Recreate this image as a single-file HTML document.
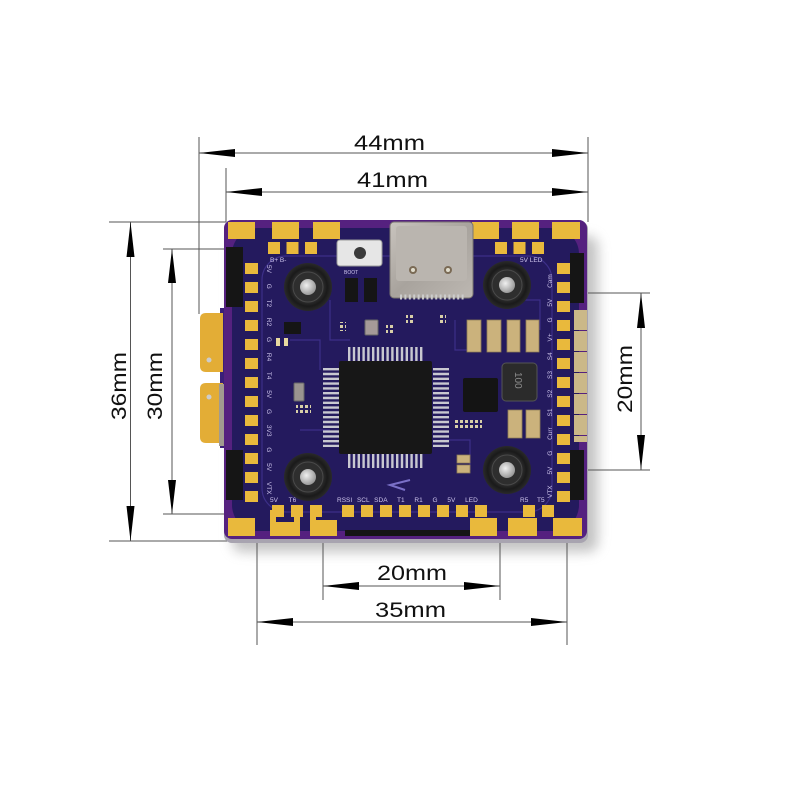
<!DOCTYPE html>
<html><head><meta charset="utf-8"><style>
html,body{margin:0;padding:0;background:#fff;}
svg{display:block;}
</style></head><body>
<svg width="800" height="800" viewBox="0 0 800 800" xmlns="http://www.w3.org/2000/svg" font-family="Liberation Sans, Arial, sans-serif">
<defs>
<filter id="blur" x="-20%" y="-20%" width="140%" height="140%"><feGaussianBlur stdDeviation="6"/></filter>
<radialGradient id="silver" cx="40%" cy="40%" r="60%"><stop offset="0" stop-color="#f0f0f0"/><stop offset="1" stop-color="#9a9a9a"/></radialGradient>
<radialGradient id="ring" cx="50%" cy="50%" r="50%"><stop offset="0.5" stop-color="#3a3a3a"/><stop offset="0.8" stop-color="#1a1a1a"/><stop offset="1" stop-color="#2a2a2a"/></radialGradient>
<linearGradient id="usb" x1="0" y1="0" x2="1" y2="1"><stop offset="0" stop-color="#c9c4be"/><stop offset="0.5" stop-color="#a8a39d"/><stop offset="1" stop-color="#bdb8b2"/></linearGradient>
<pattern id="dots" width="5" height="5" patternUnits="userSpaceOnUse"><rect width="3" height="3" fill="#d8cfa8"/></pattern>
</defs>

<rect x="232" y="236" width="366" height="316" rx="10" fill="#8a8a8a" opacity="0.5" filter="url(#blur)"/>

<g stroke="#555" stroke-width="1" fill="none">
  <path d="M199,137V314 M588,137V222 M226,168V222 M199,153H588 M226,192H588"/>
  <path d="M109,222H226 M109,541H230 M130.5,222V541 M163,249H226 M163,514H226 M172,249V514"/>
  <path d="M588,293H650 M588,470H650 M641,293V470"/>
  <path d="M257,540V645 M567,540V645 M323,536V600 M500,536V600 M323,586H500 M257,622H567"/>
</g>
<g fill="#000">
  <path d="M199,153 L235,149 L235,157Z M588,153 L552,149 L552,157Z"/>
  <path d="M226,192 L262,188 L262,196Z M588,192 L552,188 L552,196Z"/>
  <path d="M130.5,222 L126.5,257 L134.5,257Z M130.5,541 L126.5,506 L134.5,506Z"/>
  <path d="M172,249 L168,283 L176,283Z M172,514 L168,480 L176,480Z"/>
  <path d="M641,293 L637,328 L645,328Z M641,470 L637,435 L645,435Z"/>
  <path d="M323,586 L359,582 L359,590Z M500,586 L464,582 L464,590Z"/>
  <path d="M257,622 L293,618 L293,626Z M567,622 L531,618 L531,626Z"/>
</g>
<g fill="#111" font-size="21">
  <text x="354" y="150" textLength="71" lengthAdjust="spacingAndGlyphs">44mm</text>
  <text x="357" y="187" textLength="71" lengthAdjust="spacingAndGlyphs">41mm</text>
  <text x="377" y="580" textLength="70" lengthAdjust="spacingAndGlyphs">20mm</text>
  <text x="375" y="617" textLength="71" lengthAdjust="spacingAndGlyphs">35mm</text>
  <text transform="translate(126,420) rotate(-90)" textLength="68" lengthAdjust="spacingAndGlyphs">36mm</text>
  <text transform="translate(162,420) rotate(-90)" textLength="68" lengthAdjust="spacingAndGlyphs">30mm</text>
  <text transform="translate(632,413) rotate(-90)" textLength="68" lengthAdjust="spacingAndGlyphs">20mm</text>
</g>

<!-- left tab -->
<rect x="220" y="308" width="26" height="140" fill="#3a1f78"/>
<path d="M223,313 H206 Q200,313 200,319 V366 Q200,372 206,372 H223Z M223,383 H206 Q200,383 200,389 V437 Q200,443 206,443 H223Z" fill="#e3ad36"/>
<circle cx="209" cy="360" r="2.5" fill="#ccc"/>
<circle cx="209" cy="397" r="2.5" fill="#ccc"/>
<rect x="219" y="384" width="27" height="62" fill="#a29b90"/>

<!-- board -->
<rect x="224" y="221" width="364" height="322" rx="8" fill="#a8a4b0"/>
<rect x="224" y="220" width="363" height="319" rx="8" fill="#55217f"/>
<rect x="232" y="228" width="347" height="303" rx="26" fill="#241a5e"/>
<g stroke="#3c2f88" stroke-width="1.2" fill="none">
  <rect x="262" y="256" width="290" height="256" rx="24"/>
  <path d="M330,300V340H350 M455,320V350H470 M290,340H320V370 M440,440H470V470 M300,430H330 M520,300H540V330"/>
</g>

<!-- connectors on edges -->
<g fill="#151515">
  <rect x="226" y="247" width="17" height="60"/>
  <rect x="226" y="450" width="17" height="50"/>
  <rect x="570" y="253" width="14" height="50"/>
  <rect x="570" y="450" width="14" height="50"/>
  <rect x="345" y="530" width="125" height="6"/>
</g>
<line x1="580.5" y1="310" x2="580.5" y2="442" stroke="#cbb888" stroke-width="13" stroke-dasharray="20 1"/>

<!-- gold pads -->
<g fill="#e9b93c">
  <path d="M228,222h27v17h-27z M272,222h27v17h-27z M313,222h27v17h-27z M472,222h27v17h-27z M512,222h27v17h-27z M552,222h28v17h-28z"/>
  <path d="M228,518h27v18h-27z M470,518h27v18h-27z M508,518h29v18h-29z M553,518h29v18h-29z"/>
  <path d="M270,510 H276 V522 H294 V510 H300 V536 H270Z M310,510 H316 V520 H337 V536 H310Z"/>
</g>
<g stroke="#e9b93c" fill="none">
  <line x1="268" y1="248" x2="318" y2="248" stroke-width="12" stroke-dasharray="12 6.5"/>
  <line x1="495" y1="248" x2="545" y2="248" stroke-width="12" stroke-dasharray="12 6.5"/>
  <line x1="251.5" y1="263" x2="251.5" y2="502" stroke-width="13" stroke-dasharray="11 8"/>
  <line x1="563.5" y1="263" x2="563.5" y2="502" stroke-width="13" stroke-dasharray="11 8"/>
  <line x1="272" y1="511" x2="322" y2="511" stroke-width="12" stroke-dasharray="12 7"/>
  <line x1="342" y1="511" x2="487" y2="511" stroke-width="12" stroke-dasharray="12 7"/>
  <line x1="523" y1="511" x2="554" y2="511" stroke-width="12" stroke-dasharray="12 7"/>
</g>

<!-- silkscreen labels -->
<g fill="#cfc6ee" font-size="6.5">
  <text x="270" y="262">B+ B-</text>
  <text x="520" y="262">5V LED</text>
  <text x="344" y="274" font-size="5">BOOT</text>
  <text x="270" y="502" word-spacing="9">5V T6</text>
  <text x="337" y="502" word-spacing="3">RSSI SCL SDA</text>
  <text x="397" y="502" word-spacing="8">T1 R1 G 5V LED</text>
  <text x="520" y="502" word-spacing="7">R5 T5</text>
  <text transform="translate(267,265) rotate(90)" word-spacing="9">5V G T2 R2 G R4 T4 5V G 3V3 G 5V VTX</text>
  <text transform="translate(552,498) rotate(-90)" word-spacing="9">VTX 5V G Curr S1 S2 S3 S4 V+ G 5V Cam</text>
</g>

<!-- USB-C -->
<rect x="390" y="222" width="83" height="76" rx="4" fill="url(#usb)" stroke="#7a7570"/>
<rect x="396" y="226" width="71" height="55" rx="3" fill="#bab5af"/>
<circle cx="413" cy="270" r="4" fill="#7a6a55"/><circle cx="413" cy="270" r="2" fill="#e0dccc"/>
<circle cx="448" cy="270" r="4" fill="#7a6a55"/><circle cx="448" cy="270" r="2" fill="#e0dccc"/>
<line x1="400" y1="297" x2="466" y2="297" stroke="#ccc" stroke-width="5" stroke-dasharray="2 2.4"/>

<!-- boot button and small parts -->
<rect x="337" y="240" width="45" height="26" rx="3" fill="#e6e6e6" stroke="#999"/>
<circle cx="360" cy="253" r="6" fill="#3a3a3a"/>
<path d="M345,278h13v24h-13z M364,278h13v24h-13z M284,322h17v12h-17z" fill="#151515"/>

<!-- mounting holes -->
<g>
  <circle cx="308" cy="287" r="24" fill="url(#ring)"/><circle cx="308" cy="287" r="15" fill="#2e2e2e" stroke="#4a4a4a"/><circle cx="308" cy="287" r="8" fill="url(#silver)"/>
  <circle cx="507" cy="285" r="24" fill="url(#ring)"/><circle cx="507" cy="285" r="15" fill="#2e2e2e" stroke="#4a4a4a"/><circle cx="507" cy="285" r="8" fill="url(#silver)"/>
  <circle cx="308" cy="477" r="24" fill="url(#ring)"/><circle cx="308" cy="477" r="15" fill="#2e2e2e" stroke="#4a4a4a"/><circle cx="308" cy="477" r="8" fill="url(#silver)"/>
  <circle cx="507" cy="470" r="24" fill="url(#ring)"/><circle cx="507" cy="470" r="15" fill="#2e2e2e" stroke="#4a4a4a"/><circle cx="507" cy="470" r="8" fill="url(#silver)"/>
</g>

<!-- MCU -->
<g stroke="#c8c8d0" stroke-dasharray="2.4 2.4">
  <line x1="348" y1="354" x2="424" y2="354" stroke-width="14"/>
  <line x1="348" y1="461" x2="424" y2="461" stroke-width="14"/>
  <line x1="331" y1="368" x2="331" y2="447" stroke-width="16"/>
  <line x1="441" y1="368" x2="441" y2="447" stroke-width="16"/>
</g>
<rect x="339" y="361" width="93" height="93" rx="2" fill="#171717"/>

<!-- power section -->
<rect x="463" y="378" width="35" height="34" rx="2" fill="#141414"/>
<rect x="502" y="363" width="35" height="38" rx="4" fill="#2b2b2b" stroke="#555"/>
<text transform="translate(515,372) rotate(90)" fill="#8a8a8a" font-size="10">100</text>
<g fill="#cbb27c" stroke="#8f7d55" stroke-width="0.8">
  <path d="M467,320h14v32h-14z M487,320h14v32h-14z M507,320h13v32h-13z M526,320h13v32h-13z"/>
  <path d="M508,410h14v28h-14z M526,410h14v28h-14z M457,455h13v8h-13z M457,465h13v8h-13z"/>
</g>
<rect x="365" y="320" width="13" height="15" rx="1" fill="#a59a98" stroke="#666"/>
<rect x="294" y="383" width="10" height="18" rx="1" fill="#9a9490" stroke="#666"/>

<!-- tiny pads -->
<g fill="url(#dots)">
  <rect x="406" y="315" width="8" height="8"/>
  <rect x="438" y="315" width="8" height="8"/>
  <rect x="386" y="325" width="8" height="9"/>
  <rect x="338" y="322" width="8" height="9"/>
  <rect x="454" y="420" width="28" height="10"/>
  <rect x="296" y="405" width="15" height="10"/>
</g>
<path d="M276,338h4v8h-4z M284,338h4v8h-4z" fill="#e8d9a0"/>
<path d="M410,480 L390,485 L405,490" stroke="#7a70c8" stroke-width="2" fill="none"/>
</svg>
</body></html>
